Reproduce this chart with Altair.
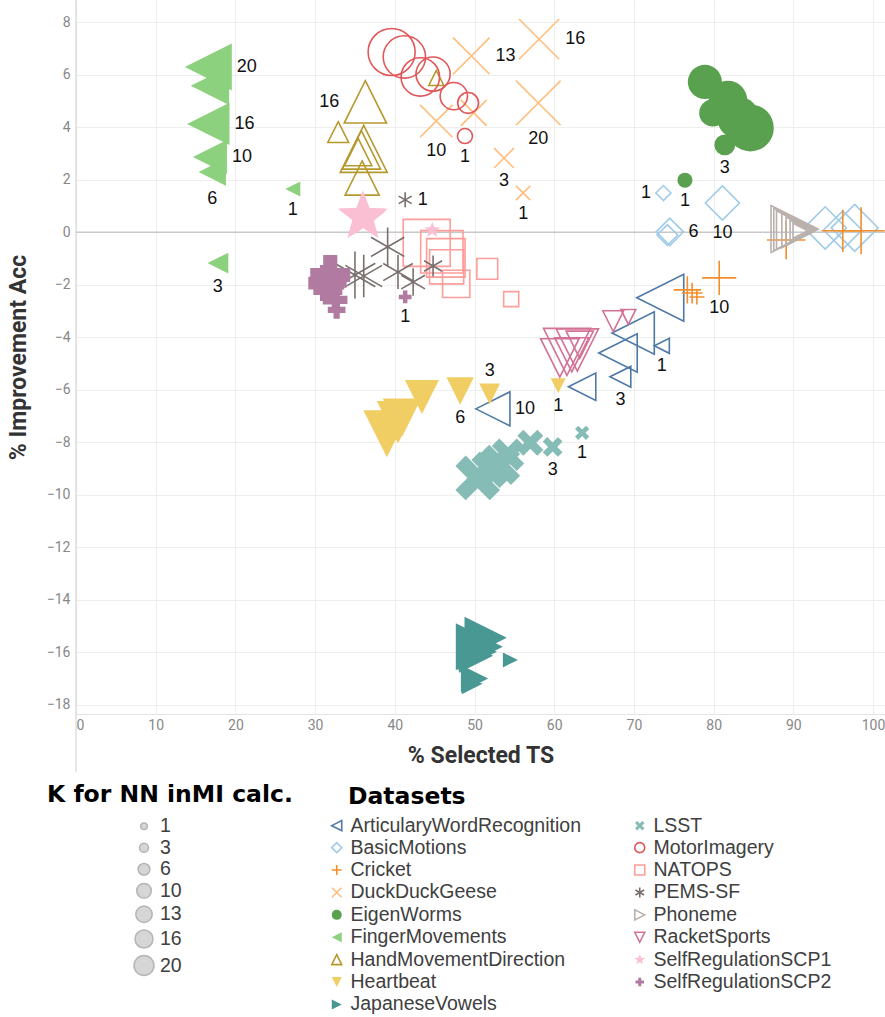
import math
import altair as alt
import pandas as pd

# ---------------- data ----------------
K_VALUES = [1, 3, 6, 10, 13, 16, 20]

DATASETS = [
    "ArticularyWordRecognition", "BasicMotions", "Cricket", "DuckDuckGeese",
    "EigenWorms", "FingerMovements", "HandMovementDirection", "Heartbeat",
    "JapaneseVowels", "LSST", "MotorImagery", "NATOPS", "PEMS-SF", "Phoneme",
    "RacketSports", "SelfRegulationSCP1", "SelfRegulationSCP2",
]

COLORS = [
    "#4E79A7", "#A0CBE8", "#F28E2B", "#FFBE7D", "#59A14F", "#8CD17D",
    "#B6992D", "#F1CE63", "#499894", "#86BCB6", "#E15759", "#FF9D9A",
    "#79706E", "#BAB0AC", "#D37295", "#FABFD2", "#B07AA1",
]

FILLED = [False, False, False, False, True, True, False, True, True, True,
          False, False, False, False, False, True, True]

# values per dataset, listed in K_VALUES order (1, 3, 6, 10, 13, 16, 20)
articulary_x = [73.5, 68.3, 63.5, 52.3, 68.0, 69.9, 73.3]
articulary_y = [-4.33, -5.51, -5.89, -6.73, -4.60, -3.84, -2.50]
basic_x = [73.7, 74.2, 74.5, 81.1, 96.2, 94.0, 97.7]
basic_y = [1.49, -0.11, 0.01, 1.11, 0.08, 0.16, 0.16]
cricket_x = [77.9, 77.3, 76.7, 80.7, 89.1, 96.2, 98.5]
cricket_y = [-2.47, -2.32, -2.20, -1.74, -0.30, 0.05, 0.05]
duck_x = [56.1, 53.7, 49.9, 45.2, 49.6, 58.1, 58.0]
duck_y = [1.49, 2.82, 4.54, 4.23, 6.71, 7.35, 4.92]
eigen_x = [76.4, 81.4, 79.9, 78.9, 81.8, 83.1, 84.6]
eigen_y = [1.98, 3.32, 4.54, 5.72, 5.03, 4.35, 3.97]
finger_x = [27.2, 17.8, 17.1, 16.8, 16.8, 16.6, 16.6]
finger_y = [1.64, -1.18, 2.29, 2.86, 5.57, 4.12, 6.29]
hand_x = [45.2, 32.9, 35.4, 35.9, 35.8, 36.3, 36.1]
hand_y = [5.87, 3.81, 3.05, 2.06, 3.13, 4.96, 3.17]
heart_x = [60.5, 51.9, 48.2, 43.4, 40.9, 40.4, 39.0]
heart_y = [-5.85, -6.16, -6.05, -6.28, -7.07, -7.24, -7.68]
japanese_x = [54.5, 49.7, 50.0, 50.2, 50.4, 51.4, 50.6]
japanese_y = [-16.29, -17.20, -17.00, -16.13, -15.98, -15.45, -15.79]
lsst_x = [63.5, 59.8, 57.0, 54.2, 51.9, 53.2, 50.4]
lsst_y = [-7.64, -8.18, -8.02, -8.48, -9.05, -8.86, -9.36]
motor_x = [48.8, 49.2, 47.4, 44.8, 43.2, 41.2, 39.6]
motor_y = [3.66, 4.92, 5.18, 6.02, 5.91, 6.67, 6.86]
natops_x = [54.6, 51.6, 47.7, 46.5, 46.4, 45.9, 44.0]
natops_y = [-2.55, -1.40, -1.97, -1.32, -0.98, -0.75, -0.41]
pems_x = [41.3, 44.8, 42.3, 40.4, 39.1, 36.1, 35.0]
pems_y = [1.23, -1.29, -1.90, -1.52, -0.56, -1.67, -1.63]
phoneme_x = [90.9, 90.9, 90.8, 90.7, 90.3, 90.2, 90.15]
phoneme_y = [0.05, 0.05, 0.05, 0.06, 0.08, 0.10, 0.12]
racket_x = [69.3, 67.4, 63.2, 62.2, 60.7, 62.9, 61.6]
racket_y = [-3.23, -3.39, -4.29, -4.67, -4.79, -4.49, -4.56]
scp1_x = [44.7, 35.9, 36.1, 35.9, 36.3, 35.9, 36.0]
scp1_y = [0.08, 0.39, 0.46, 0.50, 0.54, 0.62, 0.58]
scp2_x = [41.3, 32.7, 32.6, 31.6, 31.9, 31.4, 31.9]
scp2_y = [-2.47, -2.96, -2.58, -2.20, -1.90, -1.94, -1.63]

SERIES_X = [articulary_x, basic_x, cricket_x, duck_x, eigen_x, finger_x, hand_x,
            heart_x, japanese_x, lsst_x, motor_x, natops_x, pems_x, phoneme_x,
            racket_x, scp1_x, scp2_x]
SERIES_Y = [articulary_y, basic_y, cricket_y, duck_y, eigen_y, finger_y, hand_y,
            heart_y, japanese_y, lsst_y, motor_y, natops_y, pems_y, phoneme_y,
            racket_y, scp1_y, scp2_y]

# point labels: (dataset, K, side)
LABELS = [
    ("FingerMovements", 20, "right"), ("FingerMovements", 16, "right"),
    ("FingerMovements", 10, "right"), ("FingerMovements", 6, "below"),
    ("FingerMovements", 1, "below"), ("FingerMovements", 3, "below"),
    ("HandMovementDirection", 16, "left"),
    ("MotorImagery", 1, "below"),
    ("DuckDuckGeese", 13, "right"), ("DuckDuckGeese", 16, "right"),
    ("DuckDuckGeese", 20, "below"), ("DuckDuckGeese", 10, "below"),
    ("DuckDuckGeese", 3, "below"), ("DuckDuckGeese", 1, "below"),
    ("PEMS-SF", 1, "right"),
    ("SelfRegulationSCP2", 1, "below"),
    ("BasicMotions", 1, "left"), ("BasicMotions", 6, "right"),
    ("BasicMotions", 10, "below"),
    ("EigenWorms", 1, "below"), ("EigenWorms", 3, "below"),
    ("Cricket", 10, "below"),
    ("ArticularyWordRecognition", 1, "below"),
    ("ArticularyWordRecognition", 3, "below"),
    ("ArticularyWordRecognition", 10, "right"),
    ("Heartbeat", 1, "below"), ("Heartbeat", 6, "below"), ("Heartbeat", 3, "above"),
    ("LSST", 1, "below"), ("LSST", 3, "below"),
]

# ---------------- shapes (style) ----------------
def poly(pts):
    return "M" + "L".join(f"{x:.3f},{y:.3f}" for x, y in pts) + "Z"

TRI_LEFT = "M-1,0L1,-1L1,1Z"
TRI_RIGHT = "M1,0L-1,-1L-1,1Z"
TRI_UP = "M0,-1L1,1L-1,1Z"
TRI_DOWN = "M0,1L1,-1L-1,-1Z"
PLUS = "M-1,0L1,0M0,-1L0,1"
XTHIN = "M-0.95,-0.95L0.95,0.95M-0.95,0.95L0.95,-0.95"
ASTER = "M0,-1L0,1M-0.866,-0.5L0.866,0.5M-0.866,0.5L0.866,-0.5"
_star = []
for i in range(10):
    ang = math.radians(-90 + 36 * i)
    r = 1.12 if i % 2 == 0 else 0.46
    _star.append((r * math.cos(ang), r * math.sin(ang)))
STAR = poly(_star)
_a = 0.3
_plus = [(-_a, -1), (_a, -1), (_a, -_a), (1, -_a), (1, _a), (_a, _a), (_a, 1),
         (-_a, 1), (-_a, _a), (-1, _a), (-1, -_a), (-_a, -_a)]
_s = 0.95 / ((1 + _a) / math.sqrt(2))
THICK_X = poly([((x - y) / math.sqrt(2) * _s, (x + y) / math.sqrt(2) * _s) for x, y in _plus])
_e, _w = 0.85, 0.3
FAT_PLUS = poly([(-_w, -_e), (_w, -_e), (_w, -_w), (_e, -_w), (_e, _w), (_w, _w), (_w, _e),
                 (-_w, _e), (-_w, _w), (-_e, _w), (-_e, -_w), (-_w, -_w)])

SHAPES = [TRI_LEFT, "diamond", PLUS, XTHIN, "circle", TRI_LEFT, TRI_UP, TRI_DOWN,
          TRI_RIGHT, THICK_X, "circle", "square", ASTER, TRI_RIGHT, TRI_DOWN,
          STAR, FAT_PLUS]

DOMAIN = DATASETS
SHAPE_RANGE = SHAPES
FILL_RANGE = [c if f else "transparent" for c, f in zip(COLORS, FILLED)]
STROKE_RANGE = ["transparent" if f else c for c, f in zip(COLORS, FILLED)]

# ---------------- tables ----------------
label_map = {(d, k): side for d, k, side in LABELS}
rows = []
for name, xs, ys in zip(DATASETS, SERIES_X, SERIES_Y):
    for k, xv, yv in zip(K_VALUES, xs, ys):
        rows.append({"dataset": name, "K": k, "x": xv, "y": yv,
                     "pos": label_map.get((name, k), "")})
df = pd.DataFrame(rows)

dummy = pd.DataFrame({"K": K_VALUES, "x": [None] * len(K_VALUES), "y": [None] * len(K_VALUES)})

COND = "Liberation Sans Narrow, Arial Narrow, Roboto, Liberation Sans"

xscale = alt.Scale(domain=[0, 101.5], nice=False, zero=False)
yscale = alt.Scale(domain=[-18.35, 8.84], nice=False, zero=False)

xaxis = alt.Axis(title="% Selected TS", values=list(range(0, 101, 10)), grid=True,
                 gridColor="#eeeeee", domain=True, domainColor="#e4e4e4", ticks=False,
                 labelFont=COND, labelFontSize=14, labelColor="#888888", labelPadding=4,
                 titleFont=COND, titleFontSize=23, titleFontWeight="bold",
                 titleColor="#333333", titlePadding=12)
yaxis = alt.Axis(title="% Improvement Acc", values=list(range(-18, 9, 2)), grid=True,
                 gridColor="#eeeeee", domain=False, ticks=False,
                 labelFont=COND, labelFontSize=14, labelColor="#888888", labelPadding=6,
                 titleFont=COND, titleFontSize=23, titleFontWeight="bold",
                 titleColor="#333333", titlePadding=16)

X = alt.X("x:Q", scale=xscale, axis=xaxis)
Y = alt.Y("y:Q", scale=yscale, axis=yaxis)

dataset_legend = alt.Legend(
    title="Datasets", orient="none", legendX=272, legendY=785, columns=2,
    columnPadding=50, rowPadding=1.4, padding=0, symbolSize=100,
    symbolStrokeWidth=1.6, symbolOffset=-21, labelOffset=4,
    labelFont="Liberation Sans", labelFontSize=19.5, labelColor="#404040",
    labelLimit=400, titleFont="DejaVu Sans", titleFontSize=23.5,
    titleFontWeight="bold", titleColor="#000000", titleLimit=400, titlePadding=7,
)

points = alt.Chart(df).mark_point(opacity=1, strokeWidth=1.6).encode(
    x=X, y=Y,
    shape=alt.Shape("dataset:N", scale=alt.Scale(domain=DOMAIN, range=SHAPE_RANGE), legend=dataset_legend),
    fill=alt.Fill("dataset:N", scale=alt.Scale(domain=DOMAIN, range=FILL_RANGE), legend=dataset_legend),
    stroke=alt.Stroke("dataset:N", scale=alt.Scale(domain=DOMAIN, range=STROKE_RANGE), legend=dataset_legend),
    size=alt.Size("K:Q", scale=alt.Scale(domain=[1, 20], range=[225, 2209]), legend=None),
)

labels = alt.Chart(df).transform_filter("datum.pos != ''").transform_calculate(
    d="sqrt(225 + 1984 * (datum.K - 1) / 19)", lab="'' + datum.K"
).mark_text(
    font="Liberation Sans", fontSize=18, color="#111111", baseline="middle",
    align={"expr": "datum.pos == 'right' ? 'left' : (datum.pos == 'left' ? 'right' : 'center')"},
    dx={"expr": "datum.pos == 'right' ? datum.d / 2 + 5 : (datum.pos == 'left' ? -(datum.d / 2 + 5) : 0)"},
    dy={"expr": "datum.pos == 'below' ? datum.d / 2 + 13 : (datum.pos == 'above' ? -(datum.d / 2 + 12) : 0)"},
).encode(x=X, y=Y, text="lab:N")

size_layer = alt.Chart(dummy).mark_point(
    filled=True, color="#d6d6d6", stroke="#b5b5b5", strokeWidth=1, opacity=1, shape="circle"
).encode(
    x=X, y=Y,
    size=alt.Size("K:Q", scale=alt.Scale(domain=[1, 20], range=[44, 400]),
                  legend=alt.Legend(
                      title="K for NN inMI calc.", values=K_VALUES, orient="none",
                      legendX=-29, legendY=783, padding=0, rowPadding=0.5,
                      symbolOffset=86, labelOffset=5,
                      labelFont="Liberation Sans", labelFontSize=19.5,
                      labelColor="#404040", labelLimit=400,
                      titleFont="DejaVu Sans", titleFontSize=23.5, titleFontWeight="bold",
                      titleColor="#000000", titleLimit=400, titlePadding=10,
                  )),
)

zero = alt.Chart(pd.DataFrame({"y": [0]})).mark_rule(color="#c8c8c8", strokeWidth=1.5).encode(y=Y)
border = alt.Chart(pd.DataFrame({"v": [0]})).mark_rule(color="#cfcfcf", strokeWidth=1).encode(
    x=alt.value(0), y=alt.value(0), y2=alt.value(772)
)

chart = alt.layer(zero, border, points, labels, size_layer).resolve_scale(
    size="independent"
).properties(
    width=809, height=714,
    autosize=alt.AutoSizeParams(type="none"),
    padding={"left": 76, "top": 0, "right": 0, "bottom": 303},
).configure_view(strokeWidth=0)

chart.save("out.html", embed_options={"renderer": "svg", "actions": False})
